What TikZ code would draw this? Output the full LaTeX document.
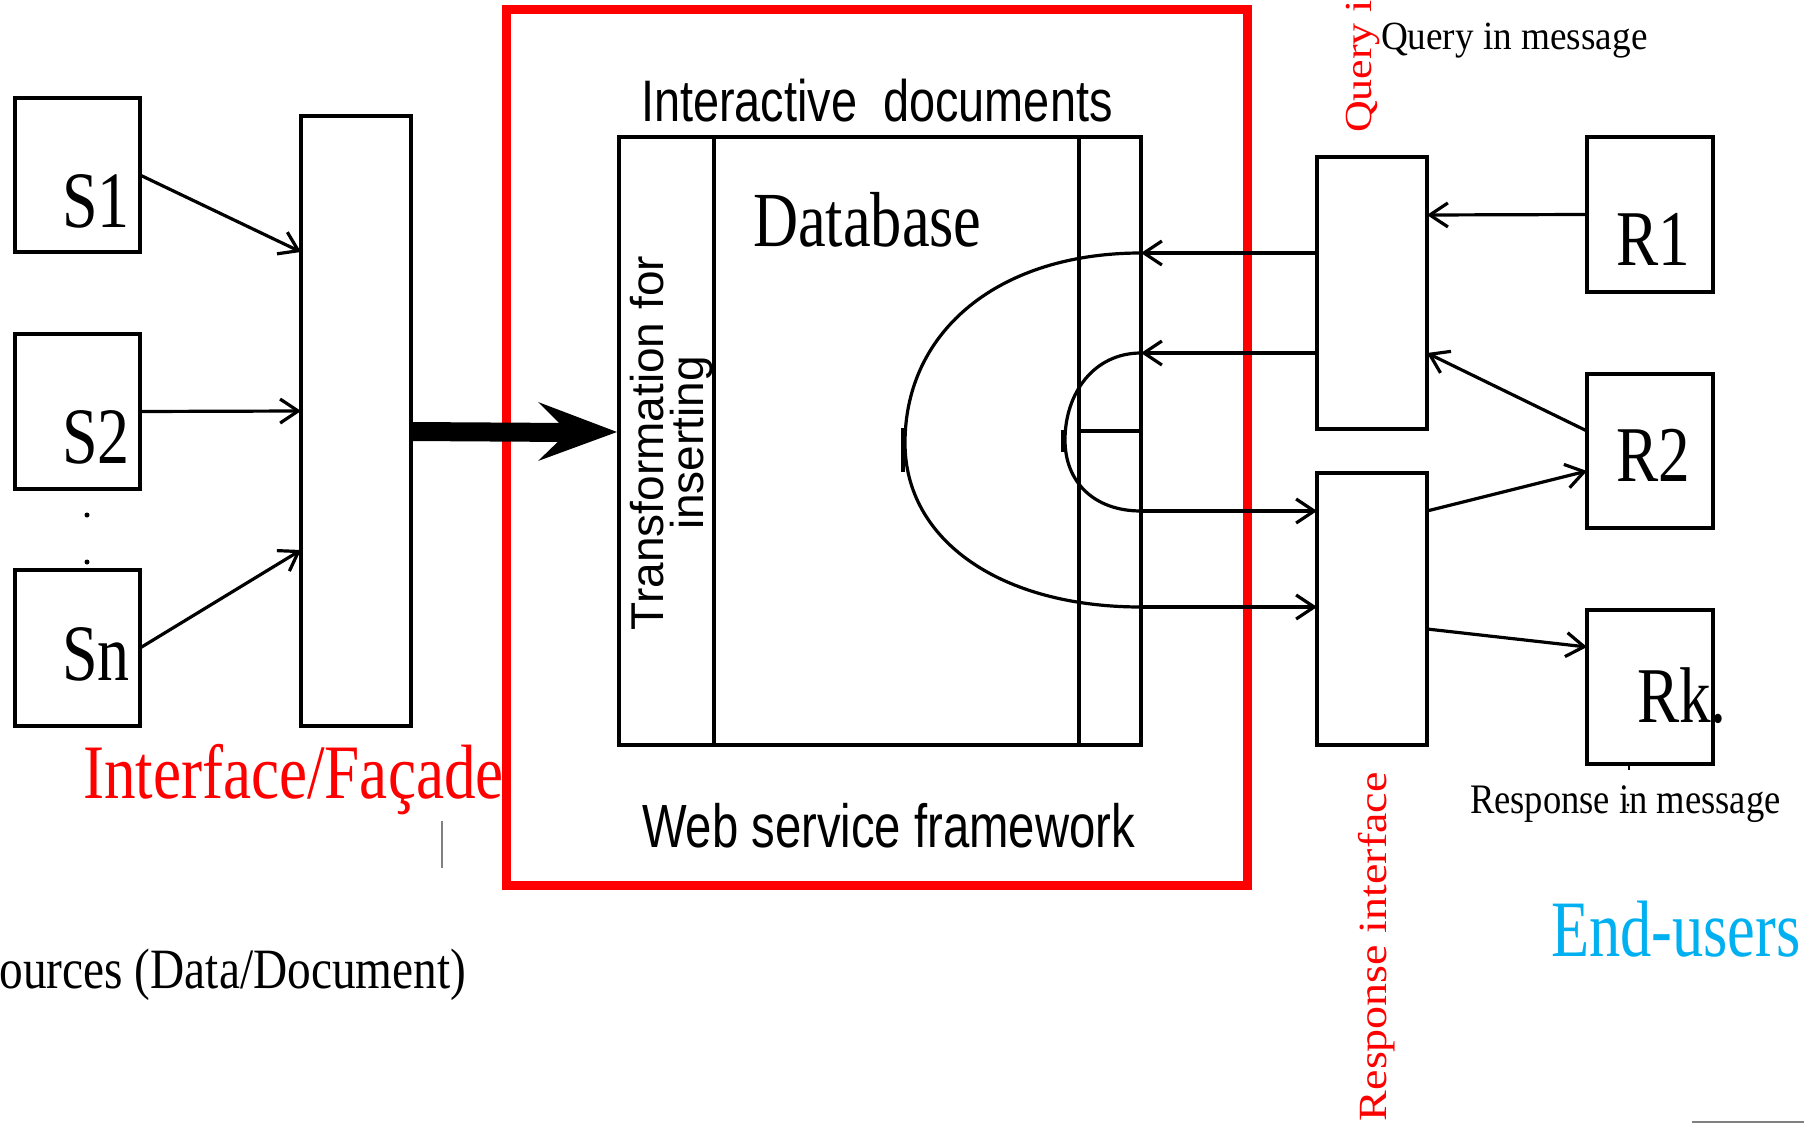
\documentclass[tikz,border=0pt]{standalone}
\usepackage{fontspec}
\setmainfont{Liberation Serif}
\newfontfamily\sansf{Liberation Sans}
\usetikzlibrary{arrows.meta,calc}
\definecolor{endblue}{RGB}{0,176,240}
\newcommand{\sqz}[2]{\scalebox{#1}[1]{#2}}
\newcommand{\vsq}[2]{\scalebox{1}[#1]{#2}}
\newcommand{\fs}[1]{\fontsize{#1}{#1}\selectfont}
\begin{document}
\begin{tikzpicture}[x=0.5pt,y=-0.5pt,
  box/.style={draw,line width=1.8pt,inner sep=0,outer sep=0,anchor=north west},
  lbl/.style={inner sep=0,outer sep=0,anchor=base west},
  arr/.style={line width=1.6pt,-{Straight Barb[length=9pt,width=12pt,line width=1.6pt]}},
  ln/.style={line width=1.6pt},
  redframe/.style={draw=red,line width=4.5pt}]
\useasboundingbox (0,0) rectangle (1804,1123);

% red web service frame
\node[redframe,inner sep=0,outer sep=0,anchor=north west,minimum width=370.5pt,minimum height=437.5pt] (frame) at (506,10) {};

% source boxes
\node[box,minimum width=62.5pt,minimum height=77pt] (S1) at (15,98) {};
\node[box,minimum width=62.5pt,minimum height=77.5pt] (S2) at (15,334) {};
\node[box,minimum width=62.5pt,minimum height=78pt] (Sn) at (15,570) {};
\node[lbl,font=\fs{40pt}] (tS1) at (62,228) {\sqz{0.8}{S1}};
\node[lbl,font=\fs{40pt}] (tS2) at (62,463) {\sqz{0.8}{S2}};
\node[lbl,font=\fs{40pt}] (tSn) at (62,680) {\sqz{0.8}{Sn}};
\fill (87,515) circle (2.5);
\fill (87,562) circle (2.5);

% facade
\node[box,minimum width=55pt,minimum height=305pt] (fac) at (301,116) {};
\draw[arr] (S1.east) -- ($(fac.north west)+(0,136)$);
\draw[arr] (S2.east) -- ($(fac.north west)+(0,295)$);
\draw[arr] (Sn.east) -- ($(fac.north west)+(0,434)$);

% database block
\node[box,minimum width=261pt,minimum height=304pt] (db) at (619,137) {};
\draw[ln] ($(db.north west)+(95,0)$) -- ($(db.south west)+(95,0)$);
\draw[ln] ($(db.north east)+(-62,0)$) -- ($(db.south east)+(-62,0)$);
\draw[ln] ($(db.north east)+(-62,294)$) -- ($(db.north east)+(0,294)$);

% big arrow
\coordinate (bA) at ($(fac.north east)+(0,315.5)$);
\coordinate (bB) at ($(db.north west)+(-49,295.5)$);
\draw[line width=9.5pt] (bA) -- (bB);
\fill ($(db.north west)+(-2,295)$) -- ($(db.north west)+(-81,265)$) -- ($(db.north west)+(-51,295)$) -- ($(db.north west)+(-81,324)$) -- cycle;

% texts inside frame
\node[lbl,font=\sansf\fs{29.3pt}] (tid) at (641,122) {\sqz{0.8}{Interactive\ \ documents}};
\node[lbl,font=\fs{39pt}] (tdb) at (753,247) {\sqz{0.8}{Database}};
\node[lbl,font=\sansf\fs{30.5pt}] (tws) at (642,847) {\sqz{0.775}{Web service framework}};
\node[inner sep=0,outer sep=0,rotate=90,align=center,font=\sansf\fontsize{23pt}{20pt}\selectfont] (ttr) at (672,443) {Transformation for\\inserting};

% query / response interface boxes
\node[box,minimum width=55pt,minimum height=136pt] (qi) at (1317,157) {};
\node[box,minimum width=55pt,minimum height=136pt] (ri) at (1317,473) {};

% end-user boxes
\node[box,minimum width=63pt,minimum height=77.5pt] (R1) at (1587,137) {};
\node[box,minimum width=63pt,minimum height=77pt] (R2) at (1587,374) {};
\node[box,minimum width=63pt,minimum height=77pt] (Rk) at (1587,610) {};
\node[lbl,font=\fs{39.5pt}] (tR1) at (1616,265) {\sqz{0.8}{R1}};
\node[lbl,font=\fs{39.5pt}] (tR2) at (1616,481) {\sqz{0.8}{R2}};
\node[lbl,font=\fs{39.5pt}] (tRk) at (1637,722) {\sqz{0.8}{Rk.}};

\draw[arr] (R1.west) -- ($(qi.north east)+(0,58)$);
\draw[arr] ($(R2.north west)+(0,57)$) -- ($(qi.north east)+(0,196)$);
\draw[arr] ($(ri.north east)+(0,38)$) -- ($(R2.north west)+(0,97)$);
\draw[arr] ($(ri.north east)+(0,156)$) -- ($(Rk.north west)+(0,37)$);

% loops through the database
\coordinate (c1) at ($(db.north east)+(0,116)$);
\coordinate (c2) at ($(db.north east)+(0,216)$);
\coordinate (c3) at ($(db.north east)+(0,374)$);
\coordinate (c4) at ($(db.north east)+(0,470)$);
\draw[arr] ($(qi.north west)+(0,96)$) -- (c1);
\draw[arr] ($(qi.north west)+(0,196)$) -- (c2);
\draw[arr] (c3) -- ($(ri.north west)+(0,38)$);
\draw[arr] (c4) -- ($(ri.north west)+(0,134)$);
\draw[ln] (c1) .. controls (1000,253) and (905,330) .. (905,443) .. controls (905,540) and (1000,607) .. (c4);
\draw[ln] (c2) .. controls (1094,353) and (1065,393) .. (1065,440) .. controls (1065,482) and (1094,511) .. (c3);
\draw[ln] (903,428) -- (903,472);
\draw[ln] (1063,430) -- (1063,452);

% labels
\node[lbl,font=\fs{38.5pt},text=red] (tfac) at (83,798) {\sqz{0.82}{Interface/Façade}};
\draw[gray,line width=0.6pt] (442,821) -- (442,868);
\node[inner sep=0,outer sep=0,anchor=base east,font=\fs{28.5pt}] (tsrc) at (466,988) {\sqz{0.83}{Sources (Data/Document)}};
\node[lbl,font=\fs{20pt}] (tqm) at (1381,50) {\sqz{0.93}{Query in message}};
\node[lbl,font=\fs{21pt}] (trm) at (1470,813) {\sqz{0.87}{Response in message}};
\node[lbl,font=\fs{40pt},text=endblue] (teu) at (1551,956) {\sqz{0.78}{End-users}};
\node[lbl,rotate=90,font=\fs{22pt},text=red] (tqi) at (1371,133) {\vsq{0.87}{Query interface}};
\node[lbl,rotate=90,font=\fs{23pt},text=red] (tri) at (1386,1121) {\vsq{0.87}{Response interface}};
\draw[line width=0.8pt] (1629,764) -- (1629,770);
\fill (1628,805) circle (1.6);
\draw[gray,line width=0.6pt] (1692,1122) -- (1804,1122);
\end{tikzpicture}
\end{document}
